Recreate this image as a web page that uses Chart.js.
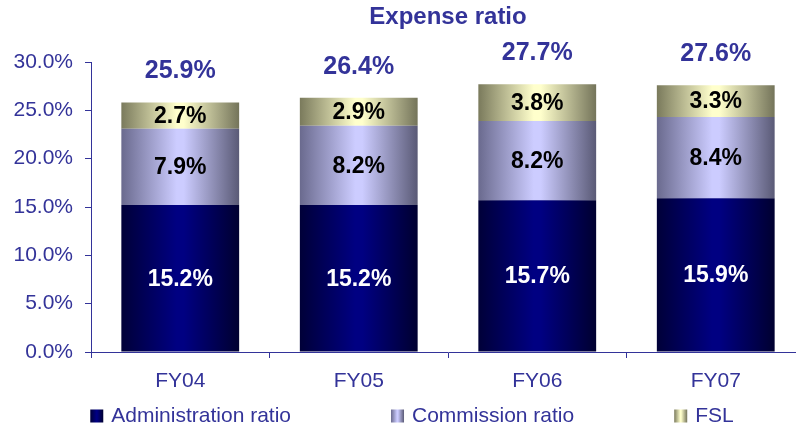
<!DOCTYPE html>
<html>
<head>
<meta charset="utf-8">
<script src="https://cdn.jsdelivr.net/npm/chart.js@4/dist/chart.umd.min.js"></script>
<style>
  html, body { margin: 0; padding: 0; background: #ffffff; }
  #wrap { width: 796px; height: 428px; overflow: hidden; position: relative; }
  canvas { display: block; }
</style>
</head>
<body>
<div id="wrap"><canvas id="expenseChart" width="805" height="428"></canvas></div>
<script>
const categories = ['FY04', 'FY05', 'FY06', 'FY07'];
const adminRatio = [15.2, 15.2, 15.7, 15.9];
const commissionRatio = [7.9, 8.2, 8.2, 8.4];
const fslRatio = [2.7, 2.9, 3.8, 3.3];
const totalRatio = [25.9, 26.4, 27.7, 27.6];
const yMin = 0, yMax = 30, yStep = 5;

const FONT = '"Liberation Sans", Arial, sans-serif';
const navy = '#333399';
const BAR_PCT = 0.66;

// edge / centre / edge colours of the cylinder-like shading
const shades = {
    admin: ['#000038', '#000082', '#000030'],
    commission: ['#6a6a8e', '#ccccff', '#5a5a76'],
    fsl: ['#7a7a5c', '#ffffcc', '#74745a']
};

function makeGradient(ctx, x0, x1, stops) {
    const g = ctx.createLinearGradient(x0, 0, x1, 0);
    g.addColorStop(0, stops[0]);
    g.addColorStop(0.47, stops[1]);
    g.addColorStop(0.53, stops[1]);
    g.addColorStop(1, stops[2]);
    return g;
}

function barFill(stops) {
    return function (context) {
        const chart = context.chart;
        const xs = chart.scales.x;
        if (context.type !== 'data' || !xs || !xs.width) return stops[1];
        const cx = xs.getPixelForTick(context.dataIndex);
        const w = (xs.width / categories.length) * BAR_PCT;
        if (!isFinite(cx) || !isFinite(w)) return stops[1];
        return makeGradient(chart.ctx, cx - w / 2, cx + w / 2, stops);
    };
}

// value labels inside the segments and totals on top
const barLabels = {
    id: 'barLabels',
    afterDatasetsDraw(chart) {
        const ctx = chart.ctx;
        ctx.save();
        ctx.textAlign = 'center';
        ctx.textBaseline = 'middle';
        chart.data.datasets.forEach((ds, di) => {
            const meta = chart.getDatasetMeta(di);
            meta.data.forEach((bar, i) => {
                ctx.font = 'bold 23px ' + FONT;
                ctx.fillStyle = di === 0 ? '#ffffff' : '#000000';
                ctx.fillText(ds.data[i].toFixed(1) + '%', bar.x, (bar.y + bar.base) / 2 + 1);
            });
        });
        const topMeta = chart.getDatasetMeta(chart.data.datasets.length - 1);
        ctx.font = 'bold 25px ' + FONT;
        ctx.fillStyle = navy;
        topMeta.data.forEach((bar, i) => {
            ctx.fillText(totalRatio[i].toFixed(1) + '%', bar.x, bar.y - 31);
        });
        ctx.restore();
    }
};

// legend along the bottom with small shaded squares
const bottomLegend = {
    id: 'bottomLegend',
    afterDraw(chart) {
        const ctx = chart.ctx;
        const box = 13, gap = 8, spacing = 100;
        const keys = ['admin', 'commission', 'fsl'];
        ctx.save();
        ctx.font = '21px ' + FONT;
        const items = chart.data.datasets.map((ds, i) => ({
            text: ds.label,
            stops: shades[keys[i]],
            w: box + gap + ctx.measureText(ds.label).width
        }));
        const total = items.reduce((s, it) => s + it.w, 0) + spacing * (items.length - 1);
        let x = 412 - total / 2;
        const cy = 416;
        items.forEach(it => {
            ctx.fillStyle = makeGradient(ctx, x, x + box, it.stops);
            ctx.fillRect(x, cy - 6.5, box, box);
            ctx.fillStyle = navy;
            ctx.textAlign = 'left';
            ctx.textBaseline = 'middle';
            ctx.fillText(it.text, x + box + gap, cy);
            x += it.w + spacing;
        });
        ctx.restore();
    }
};

const ctx = document.getElementById('expenseChart').getContext('2d');
const expenseChart = new Chart(ctx, {
    type: 'bar',
    data: {
        labels: categories,
        datasets: [
            { label: 'Administration ratio', data: adminRatio, backgroundColor: barFill(shades.admin) },
            { label: 'Commission ratio', data: commissionRatio, backgroundColor: barFill(shades.commission) },
            { label: 'FSL', data: fslRatio, backgroundColor: barFill(shades.fsl) }
        ]
    },
    options: {
        responsive: false,
        animation: false,
        events: [],
        devicePixelRatio: 1,
        layout: { padding: { left: 0, right: 0, top: 0, bottom: 34 } },
        datasets: {
            bar: { barPercentage: BAR_PCT, categoryPercentage: 1, borderWidth: 0 }
        },
        scales: {
            x: {
                stacked: true,
                afterFit: s => { s.height = 42; },
                grid: { display: true, drawOnChartArea: false, drawTicks: true, tickLength: 6, color: navy, offset: true },
                border: { display: true, color: navy, width: 1 },
                ticks: { color: navy, padding: 11, font: { size: 21, family: FONT } }
            },
            y: {
                stacked: true,
                min: yMin,
                max: yMax,
                afterFit: s => { s.width = 91; },
                grid: { display: true, drawOnChartArea: false, drawTicks: true, tickLength: 6, color: navy },
                border: { display: true, color: navy, width: 1 },
                ticks: {
                    stepSize: yStep,
                    color: navy,
                    padding: 12,
                    font: { size: 21, family: FONT },
                    callback: v => v.toFixed(1) + '%'
                }
            }
        },
        plugins: {
            legend: { display: false },
            tooltip: { enabled: false },
            title: {
                display: true,
                text: 'Expense ratio',
                color: navy,
                fullSize: false,
                font: { size: 24, weight: 'bold', family: FONT },
                padding: { top: 3, bottom: 30.2 }
            }
        }
    },
    plugins: [barLabels, bottomLegend]
});
</script>
</body>
</html>
